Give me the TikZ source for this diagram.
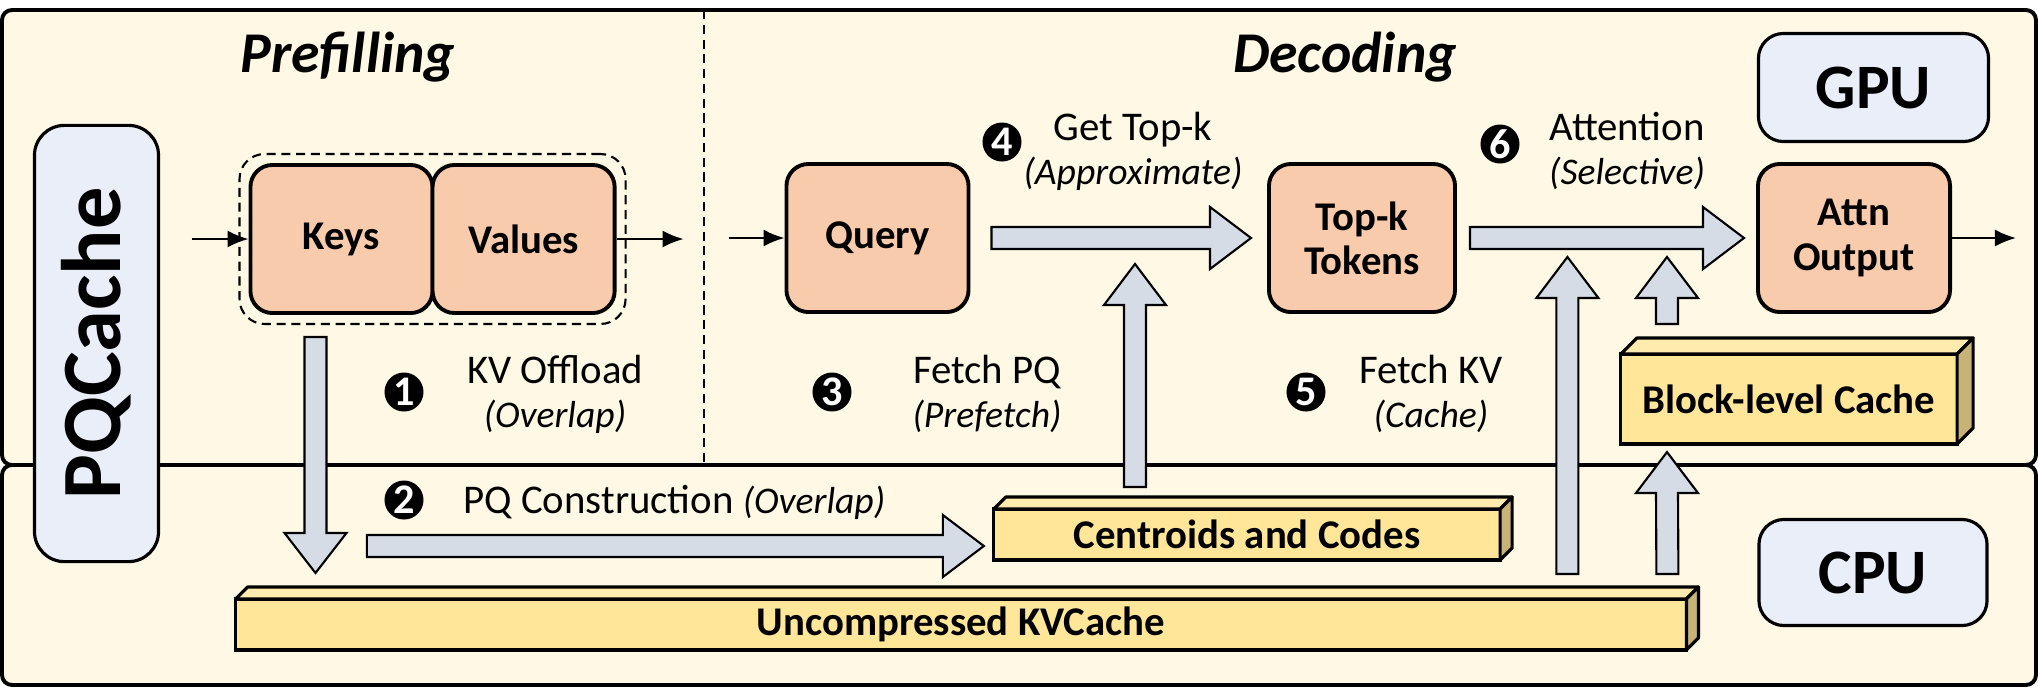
\documentclass[tikz,border=0pt]{standalone}
\usepackage{fontspec}
\setmainfont{Carlito}
\usepackage{xcolor}
\usepackage{tikz}
\usetikzlibrary{positioning,calc,fit,arrows.meta}

\definecolor{paper}{HTML}{FFF8E5}
\definecolor{devblue}{HTML}{E9EEF8}
\definecolor{kvorange}{HTML}{F8CBAD}
\definecolor{arrowgray}{HTML}{D6DCE5}
\definecolor{cacheyellow}{HTML}{FFE699}

\newcommand{\txtsize}{\fontsize{11.6}{12.6}\selectfont}
\newcommand{\subsize}{\fontsize{10.7}{12}\selectfont\itshape}

% fat block arrows, tail -> tip
\newcommand{\fatright}[2]{%
  \draw[fatarrow] ($(#1)+(0,-11)$) -- ($(#2)+(-41,-11)$) -- ($(#2)+(-41,-31)$) -- (#2)
    -- ($(#2)+(-41,31)$) -- ($(#2)+(-41,11)$) -- ($(#1)+(0,11)$) -- cycle;}
\newcommand{\fatup}[2]{%
  \draw[fatarrow] ($(#1)+(-11,0)$) -- ($(#2)+(-11,41)$) -- ($(#2)+(-31,41)$) -- (#2)
    -- ($(#2)+(31,41)$) -- ($(#2)+(11,41)$) -- ($(#1)+(11,0)$) -- cycle;}
\newcommand{\fatdown}[2]{%
  \draw[fatarrow] ($(#1)+(-11,0)$) -- ($(#2)+(-11,-40)$) -- ($(#2)+(-31,-40)$) -- (#2)
    -- ($(#2)+(31,-40)$) -- ($(#2)+(11,-40)$) -- ($(#1)+(11,0)$) -- cycle;}
% top and side faces of a cache slab
\newcommand{\slab}[2]{%
  \draw[slabtop] (#1.north west) -- ++(#2,-#2) -- ($(#1.north east)+(#2,-#2)$) -- (#1.north east) -- cycle;
  \draw[slabside] (#1.north east) -- ++(#2,-#2) -- ($(#1.south east)+(#2,-#2)$) -- (#1.south east) -- cycle;}

\begin{document}
\begin{tikzpicture}[x=0.01cm, y=-0.01cm,
    panel/.style={draw, line width=1.1pt, fill=paper, rounded corners=0.1cm},
    devbox/.style={draw, line width=0.9pt, fill=devblue, rounded corners=0.25cm, inner sep=0pt,
        font=\fontsize{18}{20}\selectfont\bfseries},
    kvbox/.style={draw, line width=1.1pt, fill=kvorange, rounded corners=0.22cm, minimum width=1.82cm,
        minimum height=1.48cm, inner sep=0pt, align=center, font=\txtsize\bfseries},
    slabbox/.style={draw, line width=0.9pt, fill=cacheyellow, inner sep=0pt, outer sep=0pt, font=\txtsize\bfseries},
    slabtop/.style={draw, line width=0.9pt, fill=cacheyellow!80!white, line join=round},
    slabside/.style={draw, line width=0.9pt, fill=cacheyellow!78!black, line join=round},
    fatarrow/.style={draw=black, line width=0.6pt, fill=arrowgray},
    flow/.style={line width=0.6pt, -{Latex[length=0.21cm,width=0.17cm]}},
    splitline/.style={line width=0.7pt, dash pattern=on 2.6pt off 1.6pt},
    numdot/.style={circle, fill=black, text=white, inner sep=0pt, minimum size=0.39cm,
        font=\fontsize{12}{12}\selectfont\bfseries},
    lbl/.style={anchor=base, font=\txtsize},
    phase/.style={anchor=base, font=\fontsize{16.4}{18}\selectfont\bfseries\itshape}]
    \useasboundingbox (0,0) rectangle (2038,687);

    % GPU and CPU panels
    \draw[panel] (2,10) rectangle (2036,465);
    \draw[panel] (2,465) rectangle (2036,685);
    \draw[splitline] (704,10) -- (704,465);

    \node[phase] (prefill) at (348,72) {Prefilling};
    \node[phase] (decode) at (1345,72) {Decoding};

    \node[devbox, minimum width=2.3cm, minimum height=1.08cm] (gpu) at (1873.5,87.5) {GPU};
    \node[devbox, minimum width=2.28cm, minimum height=1.06cm] (cpu) at (1873,572.5) {CPU};
    \node[devbox, rotate=90, minimum width=4.36cm, minimum height=1.24cm, rounded corners=0.3cm,
        font=\fontsize{24}{26}\selectfont\bfseries] (pqcache) at (96.5,343.5) {PQCache};

    % prefilling
    \node[kvbox] (keys) at (341.5,239) {Keys};
    \node[kvbox, right=-1.1pt of keys] (values) {Values};
    \node[draw, splitline, line width=0.6pt, rounded corners=0.25cm,
        fit=(keys)(values), inner sep=0.09cm] (kvgroup) {};
    \coordinate (kv-in) at ($(keys.west)+(-57,0)$);
    \coordinate (kv-out) at ($(values.east)+(67,0)$);
    \draw[flow] (kv-in) -- (keys.west);
    \draw[flow] (values.east) -- (kv-out);

    % decoding
    \node[kvbox] (query) at (877.5,238) {Query};
    \node[kvbox, minimum width=1.86cm] (topk) at (1362,238) {Top-k\\Tokens};
    \node[kvbox, minimum width=1.92cm] (attn) at (1854,238) {Attn\\Output};
    \coordinate (q-in) at ($(query.west)+(-56,0)$);
    \coordinate (attn-out) at ($(attn.east)+(64,0)$);
    \draw[flow] (q-in) -- (query.west);
    \draw[flow] (attn.east) -- (attn-out);

    % caches
    \node[slabbox, minimum width=14.5cm, minimum height=0.51cm] (kvcache) at (961,624.5) {Uncompressed KVCache};
    \node[slabbox, minimum width=5.06cm, minimum height=0.51cm] (centroids) at (1247,534.5) {Centroids and Codes};
    \node[slabbox, minimum width=3.36cm, minimum height=0.9cm] (blockcache) at (1789,399) {Block-level Cache};
    \slab{kvcache}{12}
    \slab{centroids}{12}
    \slab{blockcache}{16}

    % block arrows
    \coordinate (q-tail) at ($(query.east)+(21,0)$);
    \coordinate (t-tip) at ($(topk.west)+(-16,0)$);
    \fatright{q-tail}{t-tip}
    \coordinate (t-tail) at ($(topk.east)+(13,0)$);
    \coordinate (a-tip) at ($(attn.west)+(-12,0)$);
    \fatright{t-tail}{a-tip}
    \coordinate (pq-tip) at ($(centroids.west)+(-10,11.5)$);
    \coordinate (pq-tail) at ($(pq-tip)+(-617,0)$);
    \fatright{pq-tail}{pq-tip}
    \coordinate (off-tail) at ($(keys.south west)+(67,22)$);
    \coordinate (off-tip) at ($(off-tail)+(0,236)$);
    \fatdown{off-tail}{off-tip}
    \coordinate (cc-tail) at ($(centroids.north)+(-112,-22)$);
    \coordinate (cc-tip) at ($(cc-tail)+(0,-223)$);
    \fatup{cc-tail}{cc-tip}
    \coordinate (kv-tail) at ($(kvcache.north east)+(-119,-25)$);
    \coordinate (kv-tip) at ($(kv-tail)+(0,-317)$);
    \fatup{kv-tail}{kv-tip}
    \coordinate (blk-tail) at ($(kvcache.north east)+(-19,-25)$);
    \coordinate (blk-tip) at ($(blockcache.south)+(-122,8)$);
    \fatup{blk-tail}{blk-tip}
    \coordinate (ba-tail) at ($(blockcache.north)+(-122,-30)$);
    \coordinate (ba-tip) at ($(ba-tail)+(0,-67)$);
    \fatup{ba-tail}{ba-tip}

    % step labels
    \foreach \n/\cx/\cy/\tx/\ty/\main/\sub in {1/404/392/555/383/KV Offload/Overlap,
        3/832/392/987/383/Fetch PQ/Prefetch, 4/1002/142/1133/140/Get Top-k/Approximate,
        5/1306/392/1431/383/Fetch KV/Cache, 6/1500/144/1627/140/Attention/Selective} {
        \node[numdot] (n\n) at (\cx,\cy) {\n};
        \node[lbl] (l\n) at (\tx,\ty) {\main};
        \node[lbl, font=\subsize] (s\n) at (\tx,\ty+44) {(\sub)};
    }
    \node[numdot] (n2) at (404,500) {2};
    \node[anchor=base west, font=\txtsize] (l2) at (451,513) {PQ Construction {\subsize(Overlap)}};
\end{tikzpicture}
\end{document}
